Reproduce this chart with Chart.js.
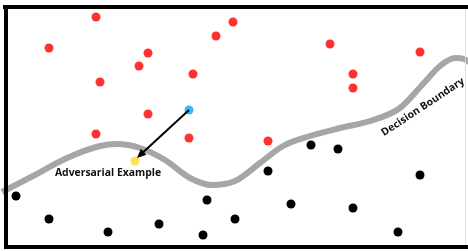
<!DOCTYPE html>
<html lang="en">
<head>
  <meta charset="UTF-8" />
  <title>Adversarial Example</title>
  <script src="https://cdn.jsdelivr.net/npm/chart.js"></script>
  <style>
    html, body { margin: 0; padding: 0; background: #fff; }
    #wrap { width: 468px; height: 251px; position: relative; }
  </style>
</head>
<body>
  <div id="wrap"><canvas id="advChart"></canvas></div>

  <script>
    // data space: x 0..468, y 0..251 (y grows downward)
    const redPoints = [
      [96, 17], [49, 48], [148, 53], [139, 66], [100, 82], [193, 74],
      [216, 36], [233, 22], [148, 114], [96, 134], [189, 138],
      [330, 44], [353, 74], [353, 88], [420, 52], [268, 141]
    ];
    const blackPoints = [
      [16, 196], [49, 219], [108, 232], [159, 224], [207, 200], [203, 235],
      [235, 219], [268, 171], [311, 145], [338, 149], [291, 204],
      [353, 208], [398, 232], [420, 175]
    ];
    const originalPoint = [[189, 110]];
    const adversarialPoint = [[135, 161]];
    const arrowFrom = [189, 110];
    const arrowTo = [137, 158];
    const boundaryX = [2, 33, 67, 100, 117, 140, 165, 190, 212, 235, 260, 283, 310, 340, 370, 400, 423, 440, 455, 464, 472];
    const boundaryY = [192, 176, 158, 146, 144, 148, 160, 178, 185, 181, 163, 146, 136, 128, 121, 108, 84, 66, 58, 59, 64];
    const labelAdv = { text: 'Adversarial Example', x: 108, y: 173, angle: 0 };
    const labelBoundary = { text: 'Decision Boundary', x: 423, y: 107, angle: -33.5 };

    function toXY(arr) {
      return arr.map(p => ({ x: p[0], y: p[1] }));
    }

    const overlay = {
      id: 'overlay',
      afterDatasetsDraw(chart) {
        const ctx = chart.ctx;
        const sx = chart.scales.x, sy = chart.scales.y;

        // arrow
        const x1 = sx.getPixelForValue(arrowFrom[0]), y1 = sy.getPixelForValue(arrowFrom[1]);
        const x2 = sx.getPixelForValue(arrowTo[0]), y2 = sy.getPixelForValue(arrowTo[1]);
        const ang = Math.atan2(y2 - y1, x2 - x1);
        ctx.save();
        ctx.strokeStyle = '#000';
        ctx.fillStyle = '#000';
        ctx.lineWidth = 2;
        ctx.beginPath();
        ctx.moveTo(x1, y1);
        ctx.lineTo(x2 - 5 * Math.cos(ang), y2 - 5 * Math.sin(ang));
        ctx.stroke();
        ctx.beginPath();
        ctx.moveTo(x2, y2);
        ctx.lineTo(x2 - 10 * Math.cos(ang - 0.42), y2 - 10 * Math.sin(ang - 0.42));
        ctx.lineTo(x2 - 10 * Math.cos(ang + 0.42), y2 - 10 * Math.sin(ang + 0.42));
        ctx.closePath();
        ctx.fill();

        // labels
        [labelAdv, labelBoundary].forEach(l => {
          ctx.save();
          ctx.translate(sx.getPixelForValue(l.x), sy.getPixelForValue(l.y));
          ctx.rotate(l.angle * Math.PI / 180);
          ctx.font = 'bold 10.4px "Open Sans"';
          ctx.textAlign = 'center';
          ctx.textBaseline = 'middle';
          ctx.fillStyle = '#111';
          ctx.fillText(l.text, 0, 0);
          ctx.restore();
        });

        // frame
        ctx.fillStyle = '#000';
        ctx.fillRect(3, 5, 465, 4);
        ctx.fillRect(4, 5, 4, 244);
        ctx.fillRect(4, 245, 464, 4);
        ctx.fillStyle = '#ddd';
        ctx.fillRect(465, 9, 1, 236);
        ctx.restore();
      }
    };

    new Chart(document.getElementById('advChart'), {
      type: 'scatter',
      data: {
        datasets: [
          {
            label: 'Original',
            data: toXY(originalPoint),
            backgroundColor: '#38b6ff',
            borderWidth: 0,
            pointRadius: 4.5,
            order: 1
          },
          {
            label: 'Adversarial',
            data: toXY(adversarialPoint),
            backgroundColor: '#ffde59',
            borderWidth: 0,
            pointRadius: 4.5,
            order: 1
          },
          {
            label: 'Class A',
            data: toXY(redPoints),
            backgroundColor: '#ff3131',
            borderWidth: 0,
            pointRadius: 4.5,
            order: 2
          },
          {
            label: 'Class B',
            data: toXY(blackPoints),
            backgroundColor: '#000',
            borderWidth: 0,
            pointRadius: 4.5,
            order: 2
          },
          {
            label: 'Decision Boundary',
            type: 'line',
            data: boundaryX.map((x, i) => ({ x, y: boundaryY[i] })),
            borderColor: '#a6a6a6',
            borderWidth: 6,
            pointRadius: 0,
            cubicInterpolationMode: 'monotone',
            fill: false,
            clip: false,
            order: 5
          }
        ]
      },
      options: {
        responsive: true,
        maintainAspectRatio: false,
        animation: false,
        layout: { padding: 0, autoPadding: false },
        plugins: { legend: { display: false }, tooltip: { enabled: false } },
        scales: {
          x: { type: 'linear', min: 0, max: 468, display: false },
          y: { type: 'linear', min: 0, max: 251, reverse: true, display: false }
        }
      },
      plugins: [overlay]
    });
  </script>
</body>
</html>
